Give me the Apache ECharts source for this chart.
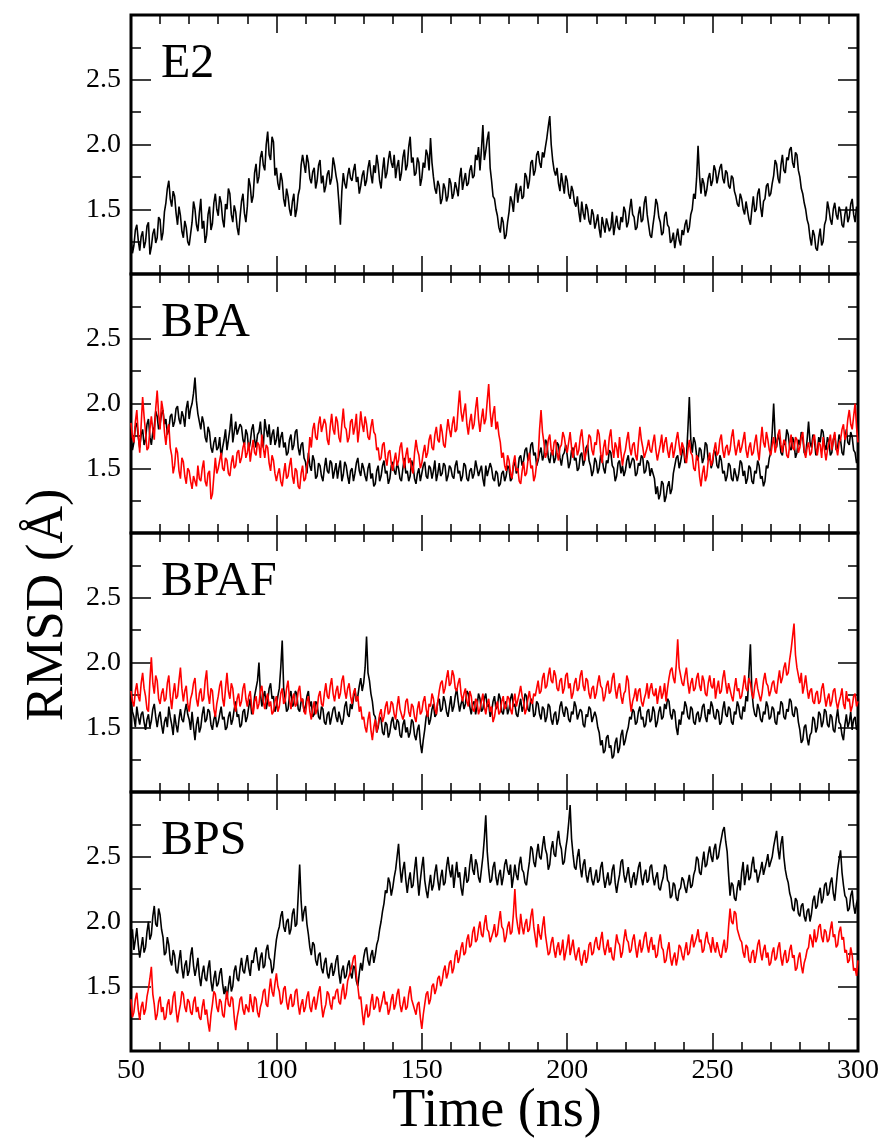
<!DOCTYPE html>
<html>
<head>
<meta charset="utf-8">
<script src="https://cdn.jsdelivr.net/npm/echarts@6/dist/echarts.min.js"></script>
<style>
html,body{margin:0;padding:0;background:#fff;}
#chart{width:885px;height:1140px;}
</style>
</head>
<body>
<div id="chart"></div>
<script>
// Time axis: samples every 0.5 ns from 50 to 300 ns
var timeStart = 50, timeEnd = 300;
var panelNames = ['E2', 'BPA', 'BPAF', 'BPS'];
var xTicks = [50, 100, 150, 200, 250, 300];
var yTicks = [1.5, 2.0, 2.5];

var e2 = [
1.30,1.16,1.22,1.34,1.38,1.26,1.18,1.29,1.33,1.20,1.25,1.37,1.40,1.15,1.21,1.31,1.35,1.24,1.28,1.44,
1.42,1.26,1.32,1.48,1.55,1.66,1.72,1.58,1.52,1.64,1.60,1.47,1.38,1.52,1.45,1.33,1.28,1.41,1.36,1.25,
1.22,1.31,1.40,1.56,1.50,1.38,1.33,1.47,1.58,1.35,1.41,1.24,1.30,1.46,1.52,1.34,1.39,1.55,1.62,1.50,
1.45,1.60,1.55,1.42,1.36,1.54,1.50,1.66,1.62,1.46,1.40,1.53,1.48,1.36,1.30,1.44,1.56,1.62,1.47,1.40,
1.52,1.74,1.68,1.55,1.60,1.78,1.85,1.70,1.75,1.90,1.95,1.84,1.80,2.00,2.10,1.92,1.88,2.06,2.02,1.76,
1.82,1.70,1.65,1.78,1.72,1.58,1.52,1.66,1.60,1.50,1.45,1.56,1.62,1.44,1.50,1.61,1.66,1.84,1.92,1.85,
1.78,1.92,1.86,1.74,1.70,1.79,1.82,1.66,1.72,1.84,1.88,1.70,1.76,1.63,1.68,1.77,1.80,1.69,1.74,1.90,
1.84,1.76,1.70,1.55,1.38,1.64,1.78,1.70,1.66,1.76,1.82,1.74,1.72,1.80,1.85,1.71,1.75,1.62,1.68,1.76,
1.80,1.68,1.72,1.82,1.88,1.77,1.70,1.84,1.78,1.92,1.84,1.72,1.66,1.80,1.90,1.74,1.78,1.88,1.95,1.86,
1.82,1.92,1.74,1.83,1.88,1.72,1.78,1.90,1.96,1.80,1.84,1.98,2.06,1.86,1.90,1.76,1.78,1.90,1.86,1.68,
1.74,1.86,1.82,1.96,1.92,1.80,2.05,1.86,1.75,1.66,1.62,1.72,1.68,1.54,1.58,1.70,1.66,1.56,1.60,1.74,
1.70,1.58,1.62,1.71,1.66,1.60,1.74,1.82,1.65,1.72,1.78,1.68,1.70,1.80,1.84,1.74,1.76,1.92,1.88,1.98,
1.80,1.96,2.15,1.88,1.95,2.04,2.10,1.82,1.72,1.60,1.58,1.50,1.45,1.36,1.32,1.44,1.40,1.27,1.30,1.40,
1.48,1.60,1.56,1.48,1.62,1.70,1.55,1.64,1.68,1.58,1.60,1.78,1.75,1.66,1.72,1.86,1.88,1.76,1.80,1.92,
1.95,1.86,1.82,1.94,1.90,1.98,2.05,2.14,2.22,2.00,1.88,1.80,1.76,1.82,1.70,1.64,1.78,1.70,1.62,1.76,
1.72,1.62,1.58,1.68,1.64,1.55,1.52,1.60,1.48,1.40,1.56,1.47,1.42,1.54,1.50,1.41,1.38,1.50,1.46,1.35,
1.40,1.46,1.35,1.28,1.44,1.38,1.32,1.43,1.42,1.33,1.36,1.48,1.30,1.38,1.45,1.36,1.34,1.44,1.40,1.52,
1.48,1.36,1.40,1.50,1.58,1.46,1.44,1.34,1.36,1.46,1.52,1.40,1.42,1.55,1.60,1.46,1.38,1.30,1.28,1.38,
1.46,1.58,1.54,1.44,1.40,1.30,1.32,1.45,1.48,1.38,1.36,1.24,1.26,1.32,1.20,1.28,1.35,1.26,1.22,1.34,
1.30,1.38,1.42,1.32,1.36,1.46,1.50,1.62,1.58,1.74,1.99,1.76,1.62,1.74,1.70,1.60,1.65,1.74,1.78,1.68,
1.72,1.84,1.80,1.70,1.76,1.82,1.85,1.74,1.70,1.80,1.78,1.68,1.66,1.76,1.74,1.64,1.60,1.54,1.52,1.62,
1.58,1.50,1.46,1.56,1.55,1.42,1.38,1.50,1.60,1.48,1.50,1.62,1.66,1.52,1.44,1.56,1.58,1.68,1.70,1.60,
1.62,1.70,1.76,1.88,1.85,1.74,1.70,1.84,1.92,1.80,1.78,1.90,1.88,1.96,1.98,1.86,1.82,1.94,1.92,1.80,
1.75,1.66,1.62,1.55,1.50,1.42,1.38,1.28,1.22,1.34,1.30,1.20,1.18,1.28,1.35,1.22,1.25,1.38,1.42,1.56,
1.50,1.42,1.38,1.50,1.55,1.46,1.42,1.52,1.48,1.38,1.36,1.46,1.52,1.40,1.44,1.54,1.58,1.46,1.40,1.52,
1.48];

var bpaBlack = [
1.78,1.64,1.70,1.82,1.85,1.74,1.66,1.76,1.80,1.68,1.72,1.84,1.88,1.74,1.68,1.78,1.82,1.94,1.90,1.80,
1.84,1.92,1.95,1.84,1.88,1.76,1.80,1.90,1.92,1.82,1.86,1.96,1.98,1.88,1.84,1.94,1.90,1.82,1.96,2.02,
1.88,1.96,2.00,2.08,2.20,2.02,1.92,1.86,1.80,1.90,1.85,1.74,1.70,1.82,1.78,1.66,1.62,1.70,1.74,1.64,
1.66,1.74,1.58,1.66,1.72,1.80,1.64,1.72,1.80,1.92,1.70,1.78,1.86,1.76,1.75,1.84,1.82,1.72,1.68,1.80,
1.76,1.64,1.70,1.80,1.84,1.72,1.66,1.76,1.78,1.86,1.72,1.66,1.88,1.80,1.74,1.84,1.68,1.76,1.80,1.68,
1.72,1.82,1.66,1.74,1.78,1.66,1.70,1.60,1.62,1.72,1.76,1.64,1.68,1.78,1.80,1.66,1.60,1.68,1.70,1.58,
1.55,1.46,1.62,1.52,1.48,1.60,1.56,1.42,1.44,1.54,1.52,1.44,1.40,1.50,1.58,1.48,1.46,1.56,1.54,1.42,
1.48,1.54,1.42,1.50,1.56,1.40,1.45,1.55,1.52,1.44,1.38,1.48,1.50,1.40,1.46,1.54,1.58,1.48,1.44,1.54,
1.50,1.44,1.40,1.50,1.54,1.42,1.46,1.36,1.38,1.48,1.52,1.40,1.44,1.52,1.56,1.46,1.48,1.38,1.42,1.52,
1.55,1.48,1.45,1.54,1.50,1.42,1.40,1.50,1.58,1.46,1.48,1.40,1.44,1.56,1.52,1.42,1.38,1.46,1.50,1.40,
1.46,1.52,1.55,1.44,1.42,1.52,1.50,1.42,1.48,1.56,1.40,1.46,1.54,1.44,1.46,1.54,1.52,1.40,1.44,1.52,
1.50,1.44,1.42,1.52,1.56,1.46,1.48,1.40,1.44,1.54,1.52,1.42,1.40,1.48,1.50,1.42,1.46,1.56,1.55,1.44,
1.48,1.52,1.42,1.36,1.52,1.44,1.45,1.54,1.50,1.42,1.40,1.48,1.46,1.36,1.38,1.46,1.48,1.40,1.44,1.52,
1.50,1.40,1.42,1.52,1.55,1.46,1.48,1.58,1.60,1.52,1.56,1.64,1.66,1.56,1.58,1.68,1.70,1.60,1.62,1.52,
1.56,1.62,1.66,1.56,1.60,1.72,1.70,1.58,1.54,1.62,1.64,1.54,1.58,1.70,1.68,1.58,1.52,1.60,1.62,1.68,
1.60,1.50,1.54,1.64,1.66,1.56,1.58,1.48,1.50,1.60,1.62,1.52,1.56,1.66,1.68,1.56,1.52,1.44,1.48,1.58,
1.55,1.46,1.50,1.60,1.58,1.50,1.46,1.56,1.54,1.64,1.62,1.52,1.50,1.40,1.44,1.54,1.56,1.46,1.52,1.44,
1.48,1.56,1.60,1.50,1.50,1.58,1.56,1.44,1.46,1.54,1.52,1.60,1.58,1.46,1.48,1.56,1.54,1.44,1.50,1.46,
1.42,1.30,1.36,1.26,1.30,1.40,1.38,1.24,1.28,1.36,1.40,1.30,1.34,1.46,1.52,1.58,1.60,1.50,1.55,1.62,
1.66,1.54,1.58,1.80,2.05,1.72,1.62,1.74,1.70,1.60,1.56,1.66,1.64,1.54,1.58,1.70,1.68,1.56,1.60,1.50,
1.54,1.64,1.62,1.52,1.50,1.60,1.56,1.46,1.48,1.40,1.44,1.54,1.52,1.42,1.40,1.50,1.50,1.40,1.46,1.56,
1.54,1.44,1.48,1.38,1.42,1.52,1.50,1.40,1.38,1.48,1.46,1.56,1.52,1.42,1.44,1.36,1.40,1.52,1.50,1.58,
1.62,1.78,2.00,1.74,1.66,1.76,1.72,1.62,1.60,1.70,1.68,1.80,1.76,1.66,1.64,1.74,1.70,1.58,1.62,1.72,
1.68,1.78,1.74,1.62,1.60,1.72,1.86,1.70,1.66,1.76,1.72,1.60,1.62,1.74,1.70,1.80,1.78,1.68,1.64,1.74,
1.70,1.60,1.62,1.72,1.76,1.64,1.66,1.76,1.72,1.62,1.60,1.72,1.80,1.70,1.68,1.78,1.74,1.64,1.62,1.54,
1.58];

var bpaRed = [
1.85,1.74,1.70,1.86,1.95,1.76,1.62,1.84,2.05,1.90,1.78,1.64,1.66,1.80,1.90,1.80,1.72,1.96,2.10,1.92,
1.80,2.02,1.95,1.78,1.68,1.80,1.84,1.66,1.60,1.46,1.52,1.66,1.62,1.48,1.42,1.58,1.55,1.44,1.38,1.50,
1.48,1.40,1.34,1.44,1.45,1.36,1.52,1.42,1.40,1.50,1.56,1.40,1.36,1.46,1.48,1.26,1.30,1.44,1.58,1.46,
1.50,1.56,1.62,1.50,1.48,1.58,1.56,1.46,1.44,1.54,1.60,1.50,1.52,1.62,1.64,1.54,1.58,1.66,1.70,1.58,
1.62,1.70,1.55,1.64,1.72,1.62,1.60,1.70,1.68,1.58,1.76,1.66,1.58,1.68,1.66,1.54,1.48,1.60,1.56,1.46,
1.40,1.46,1.50,1.40,1.36,1.46,1.54,1.42,1.44,1.52,1.58,1.44,1.38,1.50,1.48,1.36,1.34,1.46,1.52,1.40,
1.42,1.52,1.58,1.74,1.66,1.80,1.85,1.74,1.72,1.84,1.90,1.78,1.78,1.88,1.84,1.72,1.68,1.82,1.92,1.80,
1.76,1.90,1.86,1.74,1.70,1.84,1.96,1.82,1.80,1.70,1.74,1.86,1.88,1.76,1.82,1.92,1.70,1.80,1.94,1.84,
1.78,1.90,1.84,1.74,1.72,1.82,1.88,1.78,1.76,1.64,1.66,1.56,1.58,1.68,1.70,1.58,1.52,1.62,1.64,1.54,
1.48,1.56,1.62,1.52,1.56,1.66,1.70,1.58,1.50,1.60,1.66,1.54,1.58,1.50,1.46,1.62,1.72,1.64,1.60,1.50,
1.54,1.62,1.68,1.58,1.62,1.72,1.76,1.66,1.64,1.76,1.82,1.72,1.70,1.84,1.78,1.68,1.66,1.78,1.88,1.80,
1.74,1.84,1.90,1.78,1.80,1.96,2.10,1.94,1.86,1.94,2.00,1.84,1.76,1.86,1.92,1.80,1.84,1.96,2.05,1.88,
1.78,1.88,1.96,1.84,1.88,2.02,2.15,1.94,1.82,1.92,1.98,1.80,1.86,1.76,1.70,1.58,1.62,1.52,1.48,1.60,
1.56,1.46,1.42,1.54,1.60,1.48,1.50,1.40,1.38,1.48,1.55,1.44,1.46,1.56,1.62,1.50,1.52,1.40,1.44,1.54,
1.58,1.80,1.95,1.78,1.70,1.58,1.62,1.72,1.76,1.64,1.60,1.70,1.72,1.62,1.56,1.66,1.68,1.78,1.74,1.66,
1.62,1.70,1.78,1.66,1.58,1.66,1.70,1.60,1.64,1.74,1.80,1.68,1.56,1.62,1.66,1.76,1.74,1.64,1.60,1.70,
1.68,1.80,1.76,1.62,1.54,1.66,1.72,1.60,1.62,1.74,1.80,1.66,1.58,1.70,1.66,1.58,1.74,1.62,1.52,1.60,
1.64,1.72,1.78,1.66,1.60,1.68,1.70,1.60,1.56,1.70,1.82,1.72,1.66,1.58,1.58,1.66,1.72,1.64,1.62,1.70,
1.76,1.64,1.56,1.62,1.68,1.76,1.62,1.70,1.74,1.64,1.58,1.66,1.70,1.58,1.64,1.72,1.78,1.68,1.60,1.70,
1.66,1.58,1.54,1.64,1.72,1.62,1.60,1.50,1.48,1.60,1.58,1.44,1.36,1.46,1.52,1.40,1.44,1.56,1.62,1.52,
1.56,1.64,1.70,1.60,1.62,1.72,1.76,1.64,1.58,1.66,1.68,1.60,1.64,1.74,1.80,1.68,1.60,1.66,1.72,1.62,
1.66,1.72,1.78,1.64,1.58,1.66,1.70,1.60,1.62,1.70,1.76,1.64,1.56,1.70,1.82,1.70,1.66,1.78,1.72,1.64,
1.60,1.68,1.74,1.62,1.68,1.76,1.80,1.68,1.62,1.72,1.70,1.60,1.58,1.68,1.76,1.66,1.64,1.74,1.72,1.62,
1.66,1.74,1.78,1.64,1.58,1.66,1.70,1.60,1.62,1.72,1.76,1.66,1.60,1.70,1.68,1.58,1.74,1.64,1.56,1.64,
1.70,1.76,1.64,1.72,1.78,1.66,1.60,1.70,1.72,1.80,1.84,1.72,1.76,1.88,1.95,1.84,1.80,1.90,2.00,1.82,
1.70];

var bpafBlack = [
1.70,1.62,1.58,1.50,1.66,1.58,1.52,1.60,1.62,1.54,1.48,1.56,1.60,1.50,1.55,1.64,1.68,1.58,1.50,1.58,
1.62,1.52,1.45,1.54,1.58,1.50,1.66,1.58,1.52,1.44,1.60,1.52,1.46,1.56,1.64,1.56,1.54,1.62,1.68,1.60,
1.56,1.48,1.62,1.50,1.40,1.52,1.58,1.46,1.50,1.60,1.66,1.54,1.56,1.64,1.62,1.52,1.48,1.56,1.60,1.50,
1.54,1.60,1.66,1.56,1.58,1.48,1.50,1.58,1.62,1.52,1.56,1.64,1.70,1.58,1.60,1.50,1.52,1.62,1.64,1.54,
1.58,1.66,1.72,1.60,1.62,1.74,1.80,1.86,2.00,1.76,1.66,1.74,1.78,1.64,1.70,1.80,1.84,1.72,1.74,1.62,
1.66,1.74,1.80,1.96,2.17,1.80,1.72,1.62,1.64,1.74,1.78,1.66,1.68,1.78,1.76,1.64,1.62,1.70,1.72,1.62,
1.66,1.74,1.78,1.66,1.70,1.58,1.60,1.70,1.68,1.58,1.56,1.66,1.64,1.54,1.52,1.60,1.62,1.52,1.58,1.64,
1.66,1.58,1.54,1.62,1.62,1.52,1.56,1.66,1.70,1.60,1.58,1.68,1.64,1.72,1.80,1.70,1.74,1.82,1.88,1.78,
1.84,1.96,2.20,1.92,1.86,1.76,1.70,1.60,1.58,1.46,1.50,1.58,1.56,1.46,1.44,1.54,1.52,1.42,1.46,1.54,
1.58,1.50,1.48,1.56,1.54,1.44,1.42,1.52,1.56,1.46,1.50,1.42,1.46,1.56,1.54,1.44,1.40,1.48,1.52,1.38,
1.30,1.40,1.48,1.58,1.62,1.52,1.56,1.64,1.68,1.58,1.60,1.70,1.72,1.62,1.64,1.74,1.70,1.62,1.58,1.66,
1.74,1.62,1.66,1.74,1.80,1.70,1.62,1.68,1.72,1.64,1.68,1.78,1.76,1.66,1.60,1.68,1.70,1.60,1.66,1.76,
1.72,1.62,1.64,1.72,1.76,1.66,1.68,1.58,1.62,1.70,1.74,1.64,1.66,1.76,1.72,1.62,1.60,1.68,1.70,1.60,
1.64,1.72,1.76,1.66,1.68,1.60,1.58,1.66,1.72,1.62,1.66,1.76,1.74,1.64,1.62,1.72,1.70,1.58,1.60,1.70,
1.68,1.60,1.56,1.66,1.64,1.54,1.58,1.68,1.66,1.56,1.52,1.60,1.62,1.52,1.56,1.66,1.70,1.62,1.58,1.66,
1.64,1.56,1.54,1.62,1.60,1.70,1.66,1.56,1.56,1.64,1.62,1.52,1.50,1.60,1.58,1.66,1.64,1.54,1.54,1.62,
1.58,1.50,1.46,1.36,1.40,1.30,1.32,1.42,1.44,1.34,1.36,1.26,1.28,1.38,1.42,1.30,1.34,1.44,1.48,1.36,
1.40,1.46,1.50,1.58,1.56,1.64,1.62,1.52,1.54,1.62,1.66,1.56,1.58,1.50,1.52,1.62,1.64,1.54,1.56,1.66,
1.62,1.50,1.54,1.62,1.66,1.56,1.58,1.68,1.64,1.72,1.70,1.60,1.56,1.64,1.62,1.50,1.44,1.56,1.52,1.62,
1.60,1.70,1.66,1.58,1.56,1.66,1.64,1.54,1.52,1.60,1.62,1.54,1.58,1.66,1.68,1.58,1.54,1.64,1.60,1.70,
1.66,1.58,1.56,1.64,1.62,1.52,1.54,1.64,1.70,1.60,1.58,1.66,1.64,1.54,1.52,1.62,1.60,1.70,1.66,1.58,
1.56,1.66,1.62,1.74,1.70,1.92,2.14,1.78,1.66,1.60,1.58,1.68,1.64,1.56,1.54,1.62,1.60,1.70,1.66,1.56,
1.58,1.66,1.64,1.54,1.52,1.62,1.60,1.70,1.68,1.58,1.56,1.64,1.62,1.72,1.70,1.60,1.58,1.66,1.64,1.54,
1.48,1.38,1.40,1.50,1.52,1.42,1.36,1.44,1.46,1.58,1.56,1.46,1.50,1.62,1.60,1.50,1.54,1.64,1.62,1.52,
1.50,1.60,1.58,1.48,1.46,1.56,1.64,1.54,1.52,1.44,1.40,1.52,1.60,1.50,1.54,1.62,1.48,1.56,1.58,1.48,
1.52];

var bpafRed = [
1.78,1.70,1.66,1.78,1.84,1.74,1.70,1.84,1.92,1.80,1.74,1.64,1.62,1.86,2.04,1.84,1.76,1.90,1.86,1.72,
1.68,1.76,1.80,1.70,1.72,1.84,1.90,1.74,1.64,1.76,1.84,1.72,1.74,1.86,1.96,1.80,1.70,1.78,1.82,1.68,
1.62,1.72,1.76,1.84,1.88,1.72,1.66,1.76,1.80,1.70,1.72,1.86,1.94,1.76,1.68,1.80,1.78,1.64,1.58,1.68,
1.74,1.82,1.86,1.72,1.66,1.80,1.92,1.78,1.72,1.84,1.80,1.68,1.62,1.72,1.76,1.66,1.70,1.80,1.84,1.72,
1.66,1.74,1.78,1.66,1.60,1.70,1.74,1.64,1.68,1.78,1.82,1.70,1.64,1.72,1.76,1.66,1.70,1.60,1.62,1.70,
1.74,1.62,1.66,1.76,1.80,1.68,1.70,1.80,1.86,1.72,1.64,1.72,1.76,1.66,1.68,1.78,1.82,1.70,1.72,1.62,
1.60,1.70,1.74,1.62,1.56,1.64,1.70,1.60,1.64,1.74,1.78,1.68,1.66,1.76,1.84,1.74,1.72,1.82,1.88,1.76,
1.70,1.78,1.82,1.72,1.76,1.86,1.90,1.78,1.72,1.80,1.84,1.74,1.68,1.76,1.80,1.70,1.74,1.62,1.66,1.56,
1.58,1.50,1.46,1.56,1.62,1.48,1.40,1.50,1.56,1.46,1.52,1.60,1.64,1.54,1.58,1.66,1.70,1.60,1.62,1.70,
1.68,1.60,1.56,1.66,1.74,1.64,1.64,1.56,1.60,1.70,1.72,1.62,1.58,1.68,1.66,1.58,1.54,1.64,1.70,1.60,
1.62,1.70,1.74,1.64,1.58,1.68,1.66,1.76,1.72,1.64,1.60,1.70,1.78,1.84,1.86,1.76,1.80,1.88,1.94,1.82,
1.84,1.94,1.90,1.80,1.78,1.84,1.88,1.76,1.70,1.76,1.80,1.70,1.66,1.78,1.74,1.64,1.62,1.72,1.70,1.60,
1.64,1.70,1.76,1.66,1.60,1.68,1.72,1.62,1.66,1.54,1.58,1.66,1.70,1.60,1.62,1.70,1.74,1.64,1.66,1.74,
1.72,1.64,1.60,1.70,1.76,1.66,1.66,1.76,1.82,1.74,1.70,1.60,1.64,1.72,1.78,1.70,1.68,1.76,1.74,1.80,
1.86,1.76,1.78,1.88,1.92,1.80,1.82,1.90,1.96,1.86,1.84,1.94,1.90,1.80,1.78,1.86,1.88,1.76,1.80,1.90,
1.92,1.80,1.84,1.72,1.76,1.84,1.88,1.78,1.80,1.90,1.94,1.82,1.78,1.88,1.86,1.76,1.72,1.80,1.82,1.72,
1.76,1.84,1.90,1.82,1.80,1.70,1.74,1.82,1.86,1.76,1.78,1.88,1.92,1.80,1.72,1.80,1.84,1.74,1.68,1.76,
1.78,1.90,1.86,1.72,1.62,1.70,1.74,1.80,1.70,1.78,1.80,1.70,1.66,1.72,1.76,1.84,1.72,1.80,1.84,1.76,
1.74,1.80,1.68,1.76,1.82,1.72,1.76,1.84,1.70,1.80,1.88,1.94,1.96,1.88,1.84,1.98,2.18,1.96,1.90,1.84,
1.82,1.90,1.96,1.84,1.76,1.84,1.88,1.78,1.80,1.88,1.92,1.82,1.78,1.90,1.86,1.76,1.74,1.84,1.90,1.82,
1.80,1.88,1.72,1.80,1.86,1.76,1.78,1.88,1.94,1.84,1.76,1.84,1.84,1.74,1.70,1.80,1.88,1.78,1.80,1.72,
1.74,1.82,1.90,1.80,1.78,1.88,1.84,1.76,1.72,1.82,1.88,1.80,1.80,1.70,1.76,1.86,1.92,1.84,1.82,1.74,
1.78,1.84,1.86,1.78,1.76,1.86,1.94,1.84,1.88,1.96,2.00,1.90,1.92,2.02,2.10,2.20,2.30,2.06,1.96,1.90,
1.84,1.92,1.76,1.82,1.90,1.80,1.72,1.78,1.80,1.70,1.68,1.76,1.78,1.68,1.70,1.80,1.84,1.74,1.66,1.72,
1.76,1.66,1.70,1.78,1.80,1.70,1.64,1.70,1.74,1.80,1.68,1.64,1.78,1.70,1.72,1.62,1.66,1.74,1.76,1.66,
1.70];

var bpsBlack = [
1.85,1.94,1.78,1.86,1.95,1.82,1.72,1.80,1.88,1.76,1.80,1.92,2.00,1.86,1.90,2.04,2.12,1.98,1.96,2.10,
2.05,1.94,1.88,1.74,1.76,1.88,1.82,1.70,1.66,1.78,1.74,1.62,1.60,1.70,1.78,1.64,1.56,1.66,1.70,1.58,
1.62,1.74,1.80,1.66,1.58,1.64,1.72,1.58,1.50,1.60,1.66,1.56,1.54,1.64,1.70,1.54,1.46,1.56,1.62,1.50,
1.52,1.60,1.64,1.52,1.44,1.50,1.40,1.50,1.58,1.46,1.50,1.62,1.66,1.56,1.54,1.64,1.72,1.62,1.60,1.68,
1.74,1.64,1.58,1.70,1.68,1.76,1.80,1.70,1.62,1.72,1.76,1.64,1.66,1.78,1.82,1.72,1.70,1.60,1.64,1.76,
1.86,1.92,1.96,2.04,2.08,1.96,1.92,2.00,2.02,1.90,1.94,2.06,2.10,1.96,1.98,2.20,2.44,2.16,2.00,2.08,
2.12,1.98,1.90,1.80,1.74,1.84,1.82,1.70,1.66,1.74,1.76,1.64,1.60,1.68,1.72,1.60,1.56,1.64,1.68,1.58,
1.62,1.70,1.74,1.60,1.52,1.62,1.66,1.56,1.58,1.66,1.70,1.60,1.56,1.66,1.64,1.54,1.50,1.60,1.68,1.62,
1.72,1.78,1.80,1.70,1.66,1.74,1.78,1.68,1.74,1.82,1.86,1.94,2.00,2.08,2.14,2.24,2.22,2.34,2.30,2.20,
2.26,2.34,2.40,2.50,2.60,2.42,2.30,2.40,2.46,2.32,2.22,2.32,2.38,2.26,2.28,2.40,2.50,2.34,2.20,2.32,
2.42,2.50,2.32,2.24,2.18,2.28,2.36,2.24,2.28,2.38,2.44,2.32,2.24,2.34,2.40,2.28,2.30,2.42,2.50,2.40,
2.34,2.44,2.26,2.36,2.46,2.34,2.38,2.26,2.20,2.32,2.42,2.30,2.32,2.44,2.52,2.40,2.36,2.48,2.44,2.34,
2.30,2.40,2.50,2.64,2.82,2.54,2.40,2.30,2.32,2.42,2.46,2.34,2.28,2.36,2.40,2.28,2.34,2.44,2.48,2.40,
2.36,2.44,2.26,2.34,2.44,2.36,2.32,2.44,2.50,2.40,2.38,2.30,2.28,2.38,2.46,2.58,2.56,2.46,2.42,2.52,
2.60,2.50,2.48,2.58,2.66,2.56,2.52,2.40,2.44,2.56,2.62,2.52,2.50,2.62,2.70,2.60,2.56,2.44,2.46,2.56,
2.64,2.76,2.90,2.64,2.52,2.42,2.40,2.50,2.56,2.42,2.34,2.44,2.48,2.36,2.30,2.38,2.42,2.32,2.28,2.34,
2.40,2.30,2.32,2.42,2.46,2.34,2.26,2.32,2.38,2.28,2.30,2.40,2.44,2.30,2.22,2.30,2.36,2.46,2.48,2.36,
2.30,2.36,2.42,2.32,2.26,2.34,2.38,2.28,2.34,2.42,2.46,2.34,2.28,2.36,2.40,2.30,2.32,2.42,2.44,2.34,
2.28,2.34,2.38,2.26,2.24,2.30,2.34,2.44,2.42,2.32,2.30,2.18,2.20,2.30,2.28,2.18,2.16,2.24,2.26,2.34,
2.32,2.26,2.22,2.30,2.36,2.26,2.28,2.36,2.40,2.50,2.48,2.38,2.36,2.46,2.54,2.42,2.44,2.52,2.58,2.50,
2.46,2.56,2.60,2.48,2.50,2.58,2.64,2.70,2.73,2.62,2.54,2.36,2.20,2.30,2.28,2.18,2.16,2.26,2.32,2.24,
2.38,2.46,2.28,2.36,2.44,2.32,2.34,2.44,2.50,2.38,2.40,2.30,2.30,2.40,2.46,2.36,2.36,2.46,2.52,2.42,
2.42,2.50,2.58,2.64,2.70,2.56,2.48,2.60,2.66,2.50,2.40,2.34,2.30,2.22,2.18,2.10,2.08,2.18,2.16,2.06,
2.04,2.12,2.14,2.04,2.00,2.08,2.10,2.00,2.06,2.16,2.20,2.10,2.12,2.22,2.26,2.14,2.18,2.28,2.30,2.20,
2.22,2.30,2.34,2.22,2.16,2.28,2.40,2.48,2.55,2.38,2.28,2.20,2.18,2.08,2.10,2.20,2.24,2.12,2.06,2.14,
2.18];

var bpsRed = [
1.40,1.26,1.30,1.40,1.45,1.32,1.24,1.34,1.38,1.28,1.32,1.42,1.48,1.56,1.65,1.44,1.36,1.24,1.28,1.38,
1.42,1.30,1.34,1.24,1.26,1.36,1.40,1.28,1.30,1.42,1.46,1.32,1.22,1.30,1.36,1.46,1.44,1.34,1.30,1.40,
1.38,1.30,1.28,1.38,1.42,1.30,1.34,1.26,1.24,1.34,1.40,1.28,1.32,1.22,1.15,1.28,1.36,1.46,1.44,1.34,
1.30,1.40,1.38,1.28,1.26,1.38,1.46,1.36,1.34,1.42,1.40,1.26,1.16,1.26,1.32,1.40,1.42,1.32,1.28,1.36,
1.36,1.30,1.44,1.36,1.30,1.42,1.40,1.30,1.26,1.34,1.38,1.46,1.48,1.36,1.34,1.46,1.56,1.46,1.42,1.52,
1.60,1.50,1.46,1.36,1.38,1.48,1.50,1.38,1.32,1.40,1.44,1.34,1.36,1.46,1.48,1.36,1.28,1.36,1.40,1.30,
1.34,1.42,1.46,1.34,1.30,1.38,1.42,1.32,1.38,1.46,1.50,1.36,1.26,1.32,1.36,1.46,1.44,1.36,1.32,1.42,
1.40,1.46,1.48,1.38,1.36,1.46,1.52,1.40,1.44,1.54,1.58,1.62,1.66,1.72,1.74,1.58,1.50,1.40,1.42,1.30,
1.20,1.30,1.36,1.26,1.28,1.38,1.44,1.32,1.34,1.42,1.40,1.30,1.30,1.40,1.46,1.36,1.38,1.28,1.32,1.40,
1.44,1.32,1.36,1.44,1.48,1.36,1.30,1.36,1.42,1.32,1.34,1.44,1.50,1.40,1.40,1.32,1.28,1.36,1.38,1.26,
1.17,1.28,1.36,1.44,1.46,1.36,1.40,1.50,1.52,1.44,1.48,1.56,1.58,1.50,1.54,1.62,1.66,1.56,1.60,1.68,
1.70,1.60,1.64,1.74,1.78,1.68,1.72,1.80,1.84,1.74,1.76,1.86,1.90,1.80,1.82,1.92,1.96,1.84,1.86,1.94,
2.00,1.90,1.88,1.98,2.05,1.94,1.92,1.84,1.84,1.92,1.98,1.88,1.90,2.00,2.08,1.96,1.94,1.84,1.88,1.96,
2.00,1.90,1.92,2.06,2.25,2.04,1.96,1.90,2.06,1.96,1.90,1.98,2.02,1.92,1.94,2.04,2.10,1.96,1.88,1.80,
1.98,1.90,1.86,1.96,2.04,1.90,1.82,1.74,1.76,1.84,1.88,1.78,1.72,1.80,1.84,1.74,1.78,1.86,1.70,1.76,
1.82,1.90,1.74,1.80,1.86,1.76,1.70,1.76,1.80,1.70,1.66,1.74,1.78,1.68,1.72,1.82,1.84,1.74,1.76,1.84,
1.88,1.80,1.78,1.86,1.92,1.80,1.74,1.80,1.86,1.76,1.80,1.72,1.70,1.80,1.90,1.84,1.82,1.72,1.76,1.86,
1.94,1.86,1.84,1.76,1.78,1.86,1.90,1.80,1.72,1.80,1.86,1.76,1.80,1.88,1.92,1.82,1.76,1.84,1.88,1.78,
1.82,1.72,1.74,1.84,1.90,1.80,1.78,1.68,1.70,1.78,1.84,1.72,1.66,1.72,1.76,1.66,1.72,1.82,1.80,1.74,
1.70,1.78,1.84,1.74,1.76,1.84,1.90,1.80,1.80,1.88,1.94,1.84,1.86,1.76,1.78,1.86,1.92,1.84,1.82,1.76,
1.88,1.80,1.76,1.84,1.84,1.74,1.72,1.80,1.86,1.76,1.80,1.96,2.10,2.00,1.98,2.08,2.06,1.94,1.90,1.86,
1.84,1.76,1.72,1.82,1.80,1.70,1.68,1.76,1.78,1.68,1.74,1.82,1.86,1.76,1.70,1.78,1.82,1.72,1.76,1.66,
1.68,1.76,1.80,1.70,1.72,1.80,1.84,1.72,1.66,1.74,1.78,1.68,1.70,1.78,1.82,1.72,1.74,1.62,1.64,1.72,
1.76,1.66,1.60,1.68,1.72,1.78,1.80,1.90,1.86,1.80,1.94,1.84,1.88,1.96,1.98,1.88,1.84,1.94,1.92,1.84,
1.86,1.94,2.00,1.88,1.90,1.80,1.82,1.92,1.96,1.86,1.88,1.76,1.78,1.68,1.70,1.80,1.74,1.62,1.64,1.58,
1.70];

var panelSeries = [
  [{data: e2, color: '#000000'}],
  [{data: bpaBlack, color: '#000000'}, {data: bpaRed, color: '#ff0000'}],
  [{data: bpafBlack, color: '#000000'}, {data: bpafRed, color: '#ff0000'}],
  [{data: bpsBlack, color: '#000000'}, {data: bpsRed, color: '#ff0000'}]
];

(function () {
  var FONT = "'Liberation Serif', 'DejaVu Serif', serif";
  var gridLeft = 131, gridWidth = 727, gridTop0 = 15, gridH = 259;

  function pairs(arr) {
    var out = [], step = (timeEnd - timeStart) / (arr.length - 1);
    for (var i = 0; i < arr.length; i++) out.push([timeStart + i * step, arr[i]]);
    return out;
  }

  var grids = [], xAxes = [], yAxes = [], series = [], graphics = [];
  for (var p = 0; p < 4; p++) {
    var panelTop = gridTop0 + p * gridH;
    grids.push({left: gridLeft, top: panelTop, width: gridWidth, height: gridH,
      show: true, borderColor: '#000', borderWidth: 3});
    ['bottom', 'top'].forEach(function (pos) {
      xAxes.push({
        type: 'value', gridIndex: p, position: pos, min: 50, max: 300, interval: 50,
        axisLine: {show: false, onZero: false},
        axisTick: {show: true, inside: true, length: 18, lineStyle: {color: '#000', width: 1.5}},
        minorTick: {show: true, splitNumber: 5, length: 9, lineStyle: {color: '#000', width: 1.5}},
        splitLine: {show: false}, minorSplitLine: {show: false},
        axisLabel: {show: (p === 3 && pos === 'bottom'), color: '#000', fontFamily: FONT, fontSize: 28, margin: 6,
          formatter: function (v) { return xTicks.indexOf(v) >= 0 ? String(v) : ''; }}
      });
    });
    ['left', 'right'].forEach(function (pos) {
      yAxes.push({
        type: 'value', gridIndex: p, position: pos, min: 1.0, max: 3.0, interval: 0.5,
        axisLine: {show: false, onZero: false},
        axisTick: {show: true, inside: true, length: 20, lineStyle: {color: '#000', width: 1.5}},
        minorTick: {show: true, splitNumber: 2, length: 10, lineStyle: {color: '#000', width: 1.5}},
        splitLine: {show: false}, minorSplitLine: {show: false},
        axisLabel: {show: pos === 'left', color: '#000', fontFamily: FONT, fontSize: 28, margin: 10,
          formatter: function (v) {
            for (var k = 0; k < yTicks.length; k++) if (Math.abs(v - yTicks[k]) < 1e-6) return yTicks[k].toFixed(1);
            return '';
          }}
      });
    });
    panelSeries[p].forEach(function (s) {
      series.push({
        type: 'line', xAxisIndex: p * 2, yAxisIndex: p * 2, data: pairs(s.data),
        showSymbol: false, symbol: 'none', lineStyle: {color: s.color, width: 1.6},
        itemStyle: {color: s.color}, silent: true, animation: false
      });
    });
    graphics.push({
      type: 'text', x: 161, y: panelTop + 49.5,
      style: {text: panelNames[p], fill: '#000', font: '48px ' + FONT, verticalAlign: 'middle'}
    });
  }

  graphics.push({
    type: 'text', x: 497, y: 1112,
    style: {text: 'Time (ns)', fill: '#000', font: '54px ' + FONT, align: 'center', verticalAlign: 'middle'}
  });
  graphics.push({
    type: 'text', x: 48, y: 605, rotation: Math.PI / 2,
    style: {text: 'RMSD (Å)', fill: '#000', font: '52px ' + FONT, align: 'center', verticalAlign: 'middle'}
  });

  var chart = echarts.init(document.getElementById('chart'), null, {renderer: 'canvas'});
  chart.setOption({
    animation: false,
    backgroundColor: '#fff',
    grid: grids, xAxis: xAxes, yAxis: yAxes, series: series, graphic: graphics
  });
})();
</script>
</body>
</html>
